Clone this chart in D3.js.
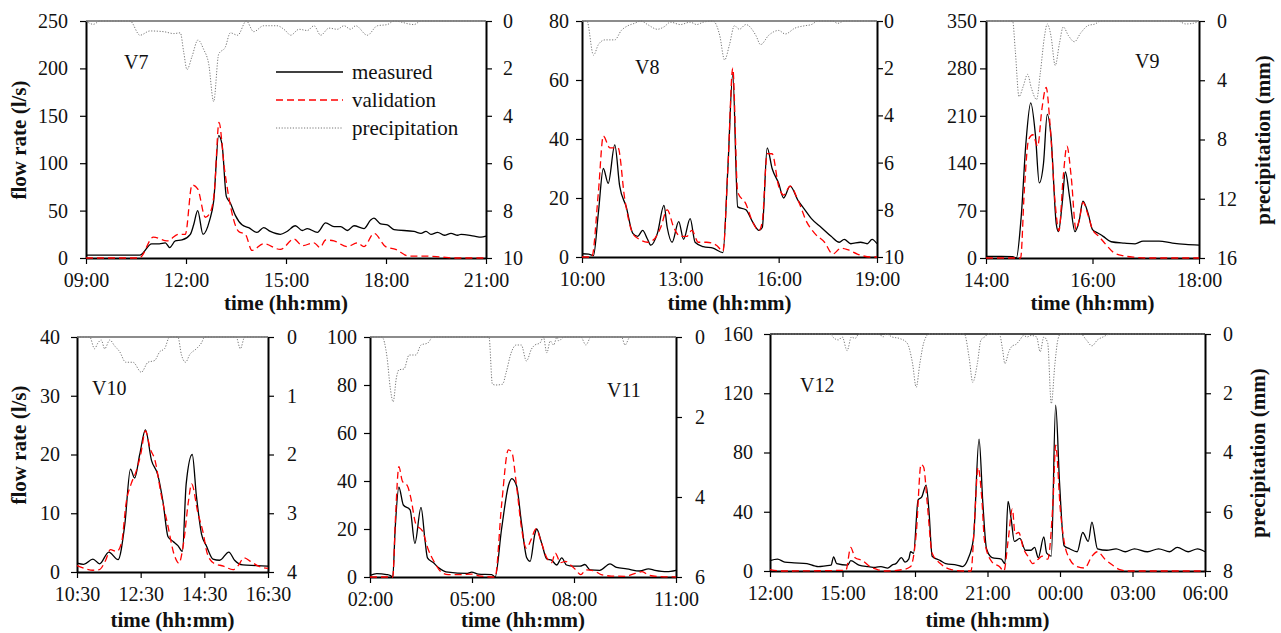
<!DOCTYPE html>
<html>
<head>
<meta charset="utf-8">
<script src="https://cdn.jsdelivr.net/npm/d3@7"></script>
<style>
  body { margin: 0; background: #fff; }
  svg text { font-family: "Liberation Serif", "Times New Roman", serif; }
  .tick text { font-family: "Liberation Serif", "Times New Roman", serif; font-size: 20px; fill: #111; }
  .title { font-size: 21px; font-weight: bold; fill: #111; }
  .lbl { font-size: 20px; fill: #111; }
  .leg { font-size: 21px; fill: #111; }
</style>
</head>
<body>
<svg id="chart" width="1281" height="633"></svg>
<script>
// ---- data: [hour, value] ----
var v7Meas = [[9,3],[10.62,3],[10.97,15],[11.2,15],[11.38,16],[11.51,11],[11.68,18],[11.88,19],[12.13,25],[12.23,35],[12.35,50],[12.51,25],[12.71,40],[12.83,60],[12.98,129],[13.08,120],[13.21,65],[13.33,58],[13.48,45],[13.68,35],[13.88,32],[14.13,27],[14.33,32],[14.53,28],[14.83,25],[15.03,28],[15.28,34],[15.49,29],[15.64,31],[15.94,27],[16.19,37],[16.44,33],[16.64,33],[16.84,29],[17.04,34],[17.34,31],[17.54,40],[17.64,42],[17.84,36],[18.04,35],[18.24,30],[18.84,28],[19.05,26],[19.2,28],[19.35,25],[19.55,27],[19.75,24],[19.95,26],[20.15,24],[20.25,25],[20.65,23],[20.85,22],[21,23]];
var v7Val = [[9,0],[10.6,0],[11.02,22],[11.43,18],[11.78,25],[11.98,25],[12.18,77],[12.35,73],[12.58,43],[12.75,50],[12.85,70],[12.99,143],[13.15,95],[13.28,65],[13.58,28],[13.78,25],[13.98,8],[14.33,15],[14.83,9],[15.24,20],[15.49,13],[15.84,16],[16.02,11],[16.19,19],[16.44,18],[16.84,12],[17.14,16],[17.34,12],[17.64,26],[17.99,12],[18.29,9],[18.69,2],[19.15,2],[19.65,1],[20.05,0],[21,0]];
var v7Rain = [[9,0],[9.22,0.14],[9.42,0],[10.32,0],[10.62,0.6],[10.92,0.42],[11.33,0.45],[11.63,0.53],[11.83,0.5],[11.93,1.3],[12.03,2.05],[12.18,1.5],[12.36,0.8],[12.53,1.2],[12.68,1.8],[12.83,3.4],[12.98,1.4],[13.18,1.1],[13.33,0.5],[13.55,0.6],[13.81,0],[14.03,0.45],[14.33,0.2],[14.73,0.2],[14.98,0.4],[15.14,0.6],[15.39,0.35],[15.64,0.4],[15.84,0.2],[16.04,0.6],[16.29,0.3],[16.54,0.35],[16.74,0.2],[16.94,0.35],[17.09,0.2],[17.44,0.6],[17.74,0.2],[18.04,0.15],[18.24,0],[18.84,0.15],[19.05,0],[21,0]];

var v8Meas = [[10,1.1],[10.2,1],[10.35,0.5],[10.5,15],[10.65,30],[10.8,25],[11.0,38],[11.15,24],[11.35,17],[11.55,8],[11.7,7],[11.85,9],[12.0,6],[12.1,4],[12.3,8],[12.5,17.5],[12.6,10],[12.75,5],[12.95,12],[13.1,6],[13.3,13],[13.45,5],[13.7,3.5],[14.0,3],[14.3,1.5],[14.45,30],[14.6,62],[14.75,17],[15.0,16],[15.2,12],[15.4,9],[15.5,10],[15.65,37],[15.8,30],[16.0,25],[16.15,20],[16.35,24],[16.6,19],[16.8,16],[17.0,13],[17.3,10],[17.6,7],[17.85,5],[18.0,6],[18.2,4.5],[18.5,5],[18.7,4.5],[18.85,6],[19,4.5]];
var v8Val = [[10,0],[10.3,0],[10.5,22],[10.65,41],[10.85,37],[11.1,37],[11.3,20],[11.55,8],[11.75,6],[12.0,5],[12.2,6],[12.4,10],[12.6,16],[12.8,10],[13.0,7],[13.2,7],[13.35,9],[13.55,5],[13.8,5],[14.1,4],[14.3,2],[14.45,30],[14.6,64],[14.75,22],[15.0,18],[15.2,12],[15.4,9],[15.5,12],[15.65,35],[15.8,35],[16.0,24],[16.15,21],[16.35,24],[16.6,19],[16.85,12],[17.1,8],[17.4,5],[17.65,1],[17.9,3],[18.1,2.5],[18.4,1],[18.8,0],[19,0]];
var v8Rain = [[10,0],[10.15,0],[10.35,1.45],[10.5,1.0],[10.7,0.8],[11.0,0.8],[11.2,0.4],[11.4,0.2],[11.6,0.1],[11.8,0],[12.0,0.15],[12.3,0.35],[12.5,0.25],[12.7,0.05],[13.0,0.15],[13.3,0.05],[13.5,0.15],[13.7,0.05],[14.0,0],[14.2,0.6],[14.35,1.65],[14.5,1.0],[14.65,0.2],[14.8,0.35],[15.0,0.15],[15.3,0.6],[15.45,1.0],[15.7,0.6],[16.0,0.4],[16.2,0.55],[16.5,0.3],[16.8,0.2],[17.0,0.15],[17.2,0],[17.65,0],[17.8,0.1],[18.0,0],[19,0]];

var v9Meas = [[14,2.5],[14.29,2.5],[14.5,2],[14.57,0],[14.66,60],[14.75,170],[14.84,229],[14.93,180],[15.0,111],[15.08,140],[15.15,212],[15.22,180],[15.32,50],[15.36,39],[15.43,80],[15.49,127],[15.57,90],[15.67,39],[15.75,55],[15.82,84],[15.92,65],[16.0,42],[16.1,37],[16.2,32],[16.35,24],[16.6,22],[16.8,21],[16.95,25],[17.25,25],[17.5,22],[17.75,20],[18,19]];
var v9Val = [[14,0],[14.65,0],[14.72,100],[14.8,175],[14.88,182],[14.97,165],[15.05,220],[15.13,252],[15.2,200],[15.3,80],[15.37,40],[15.45,120],[15.52,165],[15.6,120],[15.69,42],[15.76,60],[15.82,82],[15.93,60],[16.0,42],[16.12,32],[16.25,20],[16.4,8],[16.6,3],[16.8,1],[17.0,0],[18,0]];
var v9Rain = [[14,0],[14.5,0],[14.55,2],[14.62,5.1],[14.7,4.4],[14.78,3.6],[14.85,4.5],[14.95,5.3],[15.02,3.5],[15.1,1],[15.15,0.2],[15.22,1],[15.3,3.0],[15.38,1.5],[15.45,0.4],[15.55,1],[15.66,1.4],[15.78,0.8],[15.92,0.3],[16.05,0.2],[16.15,0],[17.6,0],[17.75,0.2],[17.9,0.15],[18,0]];

var v10Meas = [[10.5,1.5],[10.71,1.3],[11.0,2.2],[11.21,1.4],[11.5,3.4],[11.79,2.1],[12.0,8],[12.18,17.5],[12.31,16],[12.47,20],[12.65,24.2],[12.84,19],[13.04,16.5],[13.2,12],[13.36,6],[13.52,5.2],[13.67,4.5],[13.81,3.5],[13.93,15],[14.12,20],[14.25,13],[14.41,6.5],[14.56,4.5],[14.77,2.2],[14.98,2],[15.27,3.4],[15.45,2],[15.71,1.2],[16.13,1.1],[16.5,1]];
var v10Val = [[10.5,1.1],[10.8,0.5],[11.0,0.3],[11.2,0.4],[11.4,2],[11.55,3.8],[11.75,3.5],[11.9,5],[12.05,12],[12.2,15],[12.35,17],[12.5,20],[12.65,24],[12.8,21],[12.95,19],[13.15,13],[13.35,8],[13.55,3],[13.7,1.5],[13.85,5],[14.0,12],[14.1,15],[14.3,10],[14.45,7],[14.6,3],[14.8,1.5],[15.1,1],[15.4,0.4],[15.55,1],[15.75,2.4],[15.95,1.8],[16.2,1],[16.5,0.6]];
var v10Rain = [[10.5,0],[10.9,0],[11.05,0.2],[11.16,0.1],[11.26,0.05],[11.37,0.2],[11.53,0.05],[11.68,0.15],[11.84,0.25],[12.03,0.43],[12.26,0.43],[12.52,0.6],[12.73,0.43],[12.94,0.4],[13.1,0.25],[13.25,0.2],[13.41,0],[13.67,0],[13.78,0.3],[13.91,0.43],[14.04,0.3],[14.25,0.2],[14.41,0.1],[14.51,0],[15.5,0],[15.63,0.2],[15.77,0],[16.5,0]];

var v11Meas = [[2,0.7],[2.2,1.4],[2.49,1],[2.6,0.6],[2.67,0],[2.74,20],[2.85,37.4],[2.98,30],[3.18,28],[3.32,14],[3.5,29],[3.62,15],[3.69,8],[3.86,6],[4.01,4],[4.3,2],[4.84,1.5],[4.99,2],[5.19,1.2],[5.58,1],[5.68,0],[5.87,20],[6.07,38],[6.17,41],[6.31,38],[6.46,22],[6.61,8],[6.71,6.5],[6.85,18],[6.9,20],[7.05,14],[7.2,7.5],[7.34,7],[7.49,5],[7.64,8],[7.78,5],[7.98,4.5],[8.18,4.5],[8.32,5.2],[8.47,3],[8.76,2.8],[9.06,5.5],[9.25,4],[9.55,3.4],[9.94,2.5],[10.19,3.4],[10.38,2.8],[10.73,2.2],[11,2.8]];
var v11Val = [[2,0],[2.67,0],[2.75,25],[2.85,46],[2.95,40],[3.1,38],[3.2,33],[3.35,22],[3.55,19],[3.7,12],[3.9,6],[4.1,2],[4.3,1],[4.6,1],[5.0,1.2],[5.2,0.5],[5.68,0],[5.87,30],[6.07,53],[6.17,52],[6.31,38],[6.46,20],[6.6,12],[6.75,16],[6.88,20],[7.05,14],[7.2,8],[7.34,6],[7.45,10],[7.6,6],[7.75,6.5],[7.9,5],[8.05,3],[8.2,1],[8.35,3],[8.6,2.5],[8.8,1],[9.1,0.4],[9.5,0.3],[9.8,1.5],[10.0,2.2],[10.2,0.8],[10.5,0.2],[11,0]];
var v11Rain = [[2,0],[2.35,0],[2.5,0.5],[2.6,1.3],[2.68,1.62],[2.78,1.0],[2.85,0.82],[3.0,0.8],[3.15,0.45],[3.35,0.45],[3.5,0.2],[3.7,0.15],[3.85,0],[5.5,0],[5.6,1.18],[5.7,1.2],[5.9,1.18],[6.0,0.9],[6.15,0.4],[6.3,0.2],[6.45,0.2],[6.6,0.6],[6.75,0.3],[6.85,0.2],[7.0,0.15],[7.1,0],[7.2,0.4],[7.3,0.1],[7.4,0.2],[7.5,0],[7.55,0.1],[7.7,0],[8.2,0],[8.35,0.2],[8.5,0],[9.4,0],[9.5,0.2],[9.65,0],[11,0]];

// V12 runs past midnight: hours above 24 belong to the next day
var v12Meas = [[12,7],[12.31,8],[12.61,6],[13.0,5.5],[13.53,5],[13.84,3.5],[13.99,3],[14.3,3.5],[14.53,4],[14.63,9.6],[14.76,5],[15.22,4],[15.34,7],[15.68,4],[16.06,3],[16.36,2.5],[16.59,3],[16.87,2],[17.05,4],[17.21,5],[17.44,9],[17.59,6],[17.74,8],[17.82,13],[17.94,12],[18.13,48],[18.28,50],[18.46,58],[18.58,40],[18.71,10],[19.05,7],[19.27,5],[19.73,4],[19.96,3],[20.19,8],[20.42,22],[20.65,89],[20.81,45],[20.96,15],[21.19,9],[21.57,8],[21.72,5],[21.85,47],[21.98,35],[22.11,20],[22.34,22],[22.57,14],[22.8,14],[22.95,16],[23.1,9],[23.33,23],[23.45,12],[23.64,10],[23.82,112],[23.98,60],[24.17,17],[24.4,15],[24.71,13],[24.94,26],[25.17,20],[25.32,33],[25.55,15],[25.94,14],[26.32,15],[26.7,13],[27.08,15],[27.62,13],[28.08,15],[28.54,13],[28.85,16],[29.3,13],[29.69,15],[30,13]];
var v12Val = [[12,1],[12.5,0],[15.14,0.5],[15.34,16],[15.52,9],[15.83,7],[16.13,3],[16.44,1],[16.75,0],[17.51,1],[17.82,3],[18.05,25],[18.25,72],[18.36,70],[18.51,45],[18.71,12],[19.05,5],[19.5,1],[20.04,0],[20.32,0],[20.45,30],[20.61,70],[20.76,50],[20.88,20],[21.19,6],[21.49,3],[21.68,0],[21.85,20],[22.03,42],[22.14,25],[22.29,26],[22.49,15],[22.67,10],[22.87,5],[23.1,8],[23.26,10],[23.49,8],[23.72,50],[23.82,85],[24.02,40],[24.17,20],[24.4,8],[24.71,3],[25.02,2],[25.32,10],[25.55,13],[25.86,8],[26.17,4],[26.47,1],[26.85,0],[30,0]];
var v12Rain = [[12,0],[14.53,0],[14.6,0.1],[14.83,0.2],[14.99,0.1],[15.19,0.56],[15.37,0.1],[15.52,0.15],[15.68,0],[16.52,0],[16.67,0.1],[16.82,0],[17.05,0.1],[17.36,0.15],[17.67,0.3],[17.9,1.0],[18.05,1.8],[18.2,1.0],[18.36,0.3],[18.58,0],[20.04,0],[20.24,0.8],[20.39,1.63],[20.58,1.0],[20.73,0.2],[20.88,0.1],[21.04,0],[21.49,0],[21.62,0.5],[21.72,1.0],[21.88,0.6],[22.03,0.4],[22.18,0.35],[22.34,0.2],[22.49,0.05],[22.64,0.1],[22.8,0.05],[23.03,0.1],[23.18,0.6],[23.33,0.1],[23.49,0.3],[23.64,2.35],[23.79,1.0],[23.91,0.2],[24.02,0],[24.86,0],[25.09,0.2],[25.32,0.4],[25.55,0.2],[25.78,0.1],[26.09,0],[30,0]];

// axis ranges and tick steps
var panels = [
  { name: "V7",  meas: v7Meas,  val: v7Val,  rain: v7Rain,  x: [9, 21],     xStep: 3, y: [0, 250], yStep: 50, p: [0, 10], pStep: 2 },
  { name: "V8",  meas: v8Meas,  val: v8Val,  rain: v8Rain,  x: [10, 19],    xStep: 3, y: [0, 80],  yStep: 20, p: [0, 10], pStep: 2 },
  { name: "V9",  meas: v9Meas,  val: v9Val,  rain: v9Rain,  x: [14, 18],    xStep: 2, y: [0, 350], yStep: 70, p: [0, 16], pStep: 4 },
  { name: "V10", meas: v10Meas, val: v10Val, rain: v10Rain, x: [10.5, 16.5], xStep: 2, y: [0, 40],  yStep: 10, p: [0, 4],  pStep: 1 },
  { name: "V11", meas: v11Meas, val: v11Val, rain: v11Rain, x: [2, 11],     xStep: 3, y: [0, 100], yStep: 20, p: [0, 6],  pStep: 2 },
  { name: "V12", meas: v12Meas, val: v12Val, rain: v12Rain, x: [12, 30],    xStep: 3, y: [0, 160], yStep: 40, p: [0, 8],  pStep: 2 }
];

// layout of each panel on the page
var boxes = [
  { l: 86,  r: 486,  t: 21,  b: 258, padL: 12, padR: 11, lab: [38, 48],  titleY: 310, topCol: "#666" },
  { l: 582, r: 877,  t: 21,  b: 257, padL: 7,  padR: 1,  lab: [53, 53],  titleY: 310, topCol: "#666" },
  { l: 986, r: 1199, t: 21,  b: 258, padL: 3,  padR: 12, lab: [149, 47], titleY: 310, topCol: "#666" },
  { l: 77,  r: 268,  t: 337, b: 572, padL: 11, padR: 13, lab: [15, 58],  titleY: 627, topCol: "#666" },
  { l: 370, r: 676,  t: 337, b: 577, padL: 7,  padR: 13, lab: [237, 60], titleY: 627, topCol: "#666" },
  { l: 770, r: 1205, t: 334, b: 571, padL: 11, padR: 12, lab: [30, 58],  titleY: 627, topCol: "#111" }
];

var svg = d3.select("#chart");

function fmtTime(h) {
  var hh = Math.floor(h) % 24, mm = Math.round((h - Math.floor(h)) * 60);
  return (hh < 10 ? "0" : "") + hh + ":" + (mm < 10 ? "0" : "") + mm;
}

function drawPanel(d, b) {
  var x = d3.scaleLinear().domain(d.x).range([b.l, b.r]);
  var y = d3.scaleLinear().domain(d.y).range([b.b, b.t]);
  var p = d3.scaleLinear().domain(d.p).range([b.t, b.b]);

  var g = svg.append("g");

  // top frame line
  g.append("line")
    .attr("x1", b.l).attr("x2", b.r).attr("y1", b.t).attr("y2", b.t)
    .attr("stroke", b.topCol).attr("stroke-width", 1.6);

  var xa = g.append("g").attr("transform", "translate(0," + b.b + ")")
    .call(d3.axisBottom(x).tickValues(d3.range(d.x[0], d.x[1] + 0.01, d.xStep))
      .tickFormat(fmtTime).tickSize(6).tickSizeOuter(0).tickPadding(9));
  var ya = g.append("g").attr("transform", "translate(" + b.l + ",0)")
    .call(d3.axisLeft(y).tickValues(d3.range(d.y[0], d.y[1] + 0.01, d.yStep))
      .tickFormat(d3.format("d")).tickSize(6).tickSizeOuter(0).tickPadding(b.padL));
  var pa = g.append("g").attr("transform", "translate(" + b.r + ",0)")
    .call(d3.axisRight(p).tickValues(d3.range(d.p[0], d.p[1] + 0.01, d.pStep))
      .tickFormat(d3.format("d")).tickSize(6).tickSizeOuter(0).tickPadding(b.padR));

  [xa, ya, pa].forEach(function(a) {
    a.attr("font-family", "Liberation Serif, Times New Roman, serif").attr("font-size", 20);
    a.selectAll(".tick text").attr("font-family", "Liberation Serif, Times New Roman, serif");
    a.select(".domain").attr("stroke", "#000").attr("stroke-width", 2);
    a.selectAll(".tick line").attr("stroke", "#000").attr("stroke-width", 1.2);
  });

  var lineQ = d3.line().x(function(v) { return x(v[0]); }).y(function(v) { return y(v[1]); })
    .curve(d3.curveMonotoneX);
  var lineP = d3.line().x(function(v) { return x(v[0]); }).y(function(v) { return p(v[1]); })
    .curve(d3.curveMonotoneX);

  g.append("path").datum(d.rain).attr("d", lineP)
    .attr("fill", "none").attr("stroke", "#777").attr("stroke-width", 1)
    .attr("stroke-dasharray", "1.2,1.6");
  g.append("path").datum(d.meas).attr("d", lineQ)
    .attr("fill", "none").attr("stroke", "#000").attr("stroke-width", 1.3);
  g.append("path").datum(d.val).attr("d", lineQ)
    .attr("fill", "none").attr("stroke", "#f00").attr("stroke-width", 1.3)
    .attr("stroke-dasharray", "7,4");

  g.append("text").attr("class", "lbl")
    .attr("x", b.l + b.lab[0]).attr("y", b.t + b.lab[1]).text(d.name);

  g.append("text").attr("class", "title").attr("text-anchor", "middle")
    .attr("x", (b.l + b.r) / 2).attr("y", b.titleY).text("time (hh:mm)");
}

panels.forEach(function(d, i) { drawPanel(d, boxes[i]); });

// side titles
function vTitle(txt, cx, cy) {
  svg.append("text").attr("class", "title").attr("text-anchor", "middle")
    .attr("transform", "translate(" + cx + "," + cy + ") rotate(-90)")
    .attr("dy", "0.35em").text(txt);
}
vTitle("flow rate (l/s)", 19, 140);
vTitle("flow rate (l/s)", 19, 445);
vTitle("precipitation (mm)", 1263, 140);
vTitle("precipitation (mm)", 1258, 453);

// legend in V7
var legItems = [
  { t: "measured", c: "#000", dash: null, w: 1.3 },
  { t: "validation", c: "#f00", dash: "7,4", w: 1.3 },
  { t: "precipitation", c: "#777", dash: "1.2,1.6", w: 1 }
];
var leg = svg.append("g").attr("transform", "translate(276,72)");
legItems.forEach(function(it, i) {
  var row = leg.append("g").attr("transform", "translate(0," + (i * 28) + ")");
  row.append("line").attr("x1", 0).attr("x2", 67).attr("y1", 0).attr("y2", 0)
    .attr("stroke", it.c).attr("stroke-width", it.w).attr("stroke-dasharray", it.dash);
  row.append("text").attr("class", "leg").attr("x", 76).attr("y", 7).text(it.t);
});
</script>
</body>
</html>
